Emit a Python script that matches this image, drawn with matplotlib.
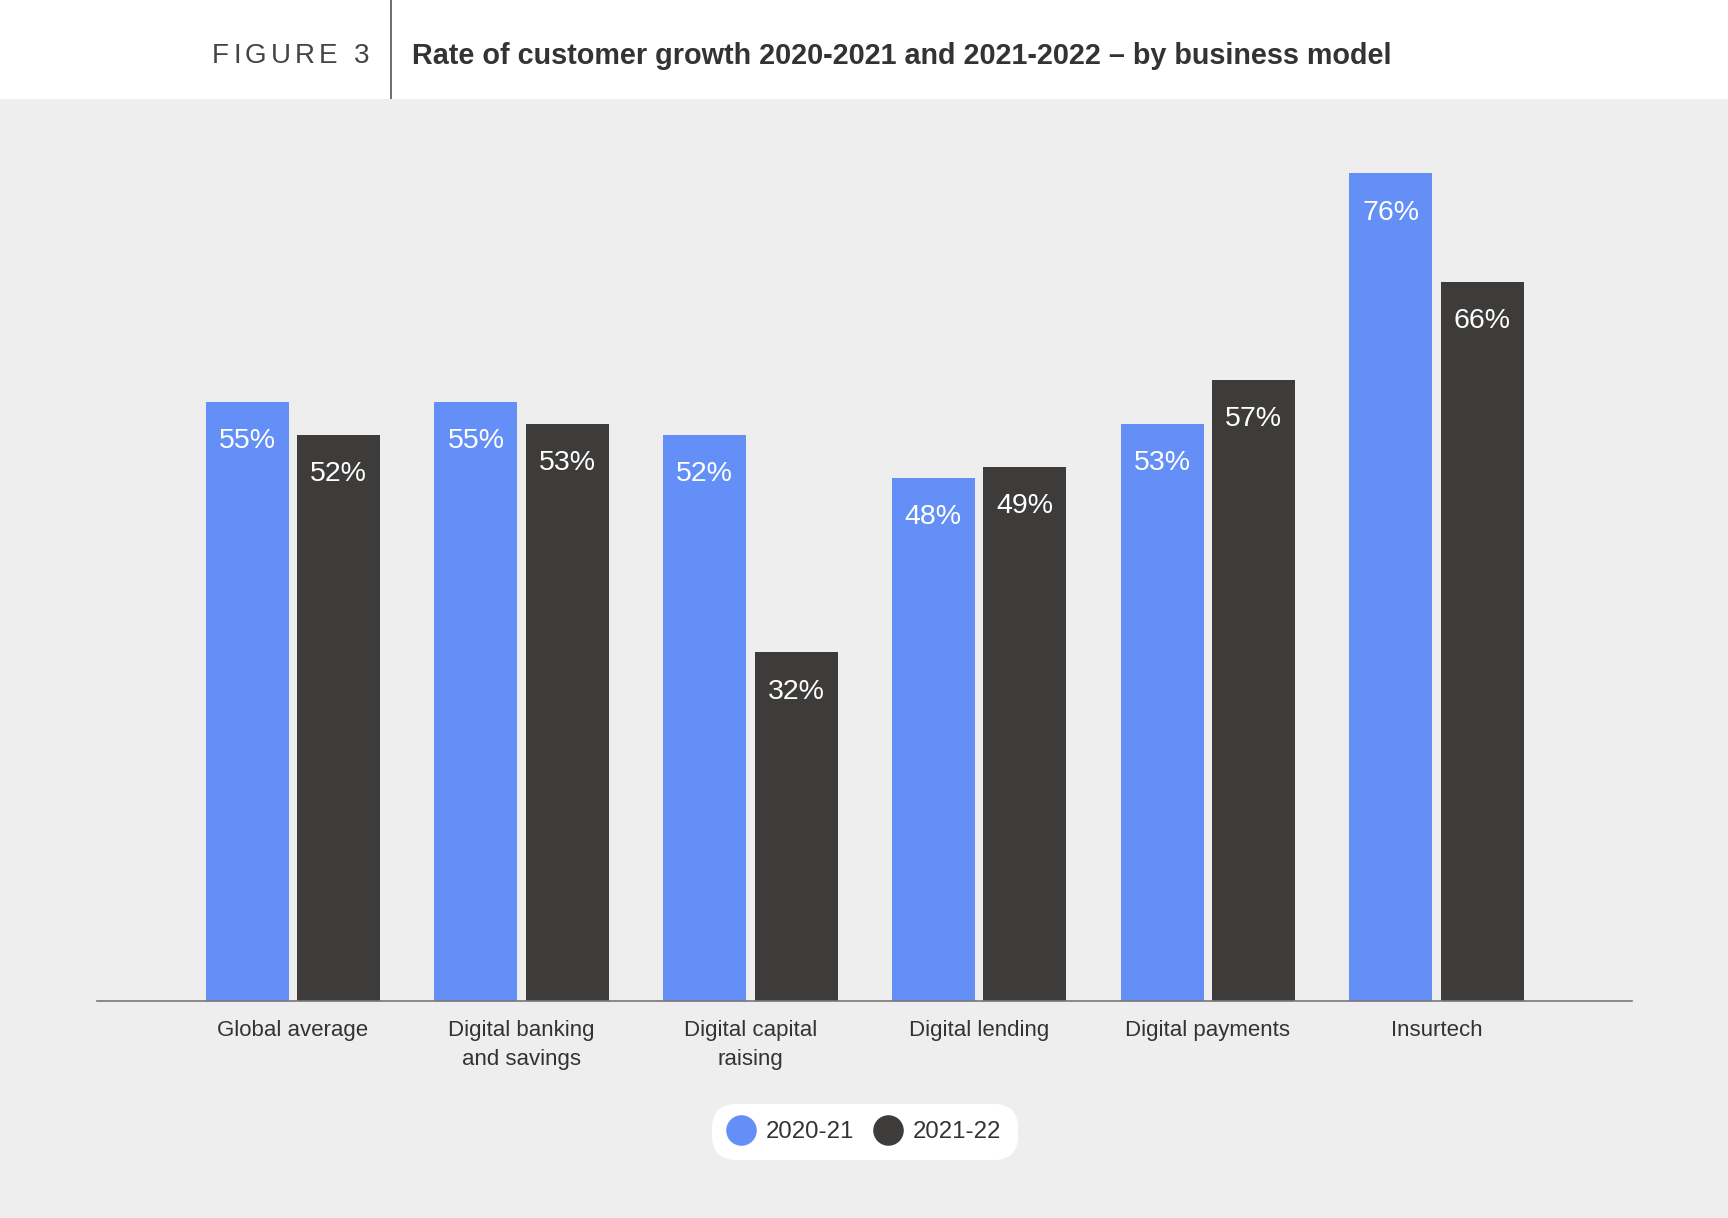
import numpy as np
import matplotlib.pyplot as plt
from matplotlib.lines import Line2D

categories = ["Global average", "Digital banking\nand savings", "Digital capital\nraising",
              "Digital lending", "Digital payments", "Insurtech"]
growth_2021 = [55, 55, 52, 48, 53, 76]
growth_2022 = [52, 53, 32, 49, 57, 66]
series_names = ["2020-21", "2021-22"]

BLUE = "#638ff6"
DARK = "#3d3c3a"
BG = "#eeeeee"
TXT = "#333333"

plt.rcParams["font.family"] = ["Liberation Sans", "DejaVu Sans"]

W, H = 1728, 1218
fig = plt.figure(figsize=(W / 100, H / 100), dpi=100, facecolor=BG)

##### cabecera blanca #####
hdr = fig.add_axes([0, 1 - 99 / H, 1, 99 / H])
hdr.set_xlim(0, W)
hdr.set_ylim(99, 0)
hdr.axis("off")
hdr.add_patch(plt.Rectangle((0, 0), W, 99, color="white", zorder=0))
hdr.plot([391, 391], [0, 99], color="#555555", lw=1.2)

# FIGURE 3 con espaciado entre letras (medido con el renderer)
fig.canvas.draw()
renderer = fig.canvas.get_renderer()
xpos = 212
tracking = 4.2
for ch in "FIGURE 3":
    t = hdr.text(xpos, 56, ch, fontsize=20, color="#444444", ha="left", va="center")
    if ch == " ":
        xpos += 8 + tracking
    else:
        xpos += t.get_window_extent(renderer).width + tracking

hdr.text(412, 56, "Rate of customer growth 2020-2021 and 2021-2022 \u2013 by business model",
         fontsize=20.7, fontweight="bold", color="#333333", ha="left", va="center")

##### barras #####
base_px = 1000.7
px_per_pct = 10.886
ymax = 80
top_px = base_px - ymax * px_per_pct
ax = fig.add_axes([97 / W, (H - base_px) / H, (1632 - 97) / W, (base_px - top_px) / H])
ax.set_facecolor(BG)
ax.set_xlim(-0.857, 5.855)
ax.set_ylim(0, ymax)

x = np.arange(len(categories))
w = 0.363
b1 = ax.bar(x - 0.2, growth_2021, w, color=BLUE)
b2 = ax.bar(x + 0.2, growth_2022, w, color=DARK)

for bars, vals in [(b1, growth_2021), (b2, growth_2022)]:
    for r, v in zip(bars, vals):
        ax.text(r.get_x() + r.get_width() / 2, v - 3.6, f"{v}%", color="white",
                fontsize=20.5, ha="center", va="center")

for s in ["top", "right", "left"]:
    ax.spines[s].set_visible(False)
ax.spines["bottom"].set_color("#777777")
ax.spines["bottom"].set_linewidth(1.2)
ax.set_yticks([])
ax.set_xticks(x)
ax.set_xticklabels(categories, fontsize=16, color=TXT, linespacing=1.5)
ax.tick_params(axis="x", length=0, pad=14)

##### leyenda #####
handles = [Line2D([], [], marker="o", ls="", markersize=22, color=c, markeredgewidth=0)
           for c in (BLUE, DARK)]
leg = fig.legend(handles, series_names, loc="center", bbox_to_anchor=(865 / W, 1 - 1132 / H),
                 ncol=2, frameon=True, facecolor="white", edgecolor="none", framealpha=1,
                 fontsize=17.3, handlelength=1.0, handletextpad=0.55, columnspacing=0.9,
                 borderpad=0.5, labelcolor=TXT)
leg.get_frame().set_boxstyle("round", pad=0.2, rounding_size=1.0)

plt.savefig("out.png", dpi=100, facecolor=BG)
